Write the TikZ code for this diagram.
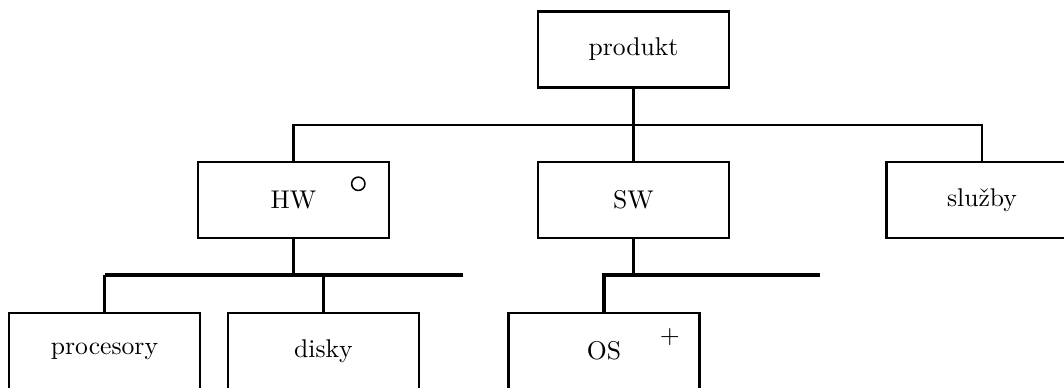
\documentclass[tikz,border=0pt]{standalone}
\usepackage{fontspec}
\begin{document}
\begin{tikzpicture}[x=0.39pt, y=-0.39pt, line width=1pt,
		box/.style={draw, minimum width=74.5pt, minimum height=29.6pt, inner sep=0pt},
		bus/.style={line width=1.5pt}]
		\useasboundingbox (0,0) rectangle (1064,387);
		\clip (0,0) rectangle (1064,387);
		\node[box] (produkt)   at (633.5,49.5) {produkt};
		\node[box] (hw)        at (293.5,200)  {HW};
		\node[box] (sw)        at (633.5,200)  {SW};
		\node[box] (sluzby)    at (982,200)    {služby};
		\node[box] (procesory) at (104.5,351)  {procesory};
		\node[box] (disky)     at (323.5,351)  {disky};
		\node[box] (os)        at (604,351)    {OS};
		\node[circle, draw, line width=0.6pt, inner sep=0pt, minimum size=5.2pt] (hw mark) at ([shift={(-32,23)}]hw.north east) {};
		\node (os mark) at ([shift={(-31,25)}]os.north east) {$+$};
		\coordinate (top bus) at (0,125);
		\coordinate (hw bus)  at (463,275);
		\coordinate (sw bus)  at (820,275);
		\draw (produkt.south) -- (sw.north);
		\draw (hw.north) |- (sluzby.north |- top bus) -- (sluzby.north);
		\draw (hw.south) -- (hw.south |- hw bus);
		\draw[bus] (procesory.north |- hw bus) -- (hw bus);
		\draw (procesory.north) -- (procesory.north |- hw bus);
		\draw (disky.north) -- (disky.north |- hw bus);
		\draw (sw.south) -- (sw.south |- sw bus);
		\draw[bus] (os.north) |- (sw bus);
\end{tikzpicture}
\end{document}
